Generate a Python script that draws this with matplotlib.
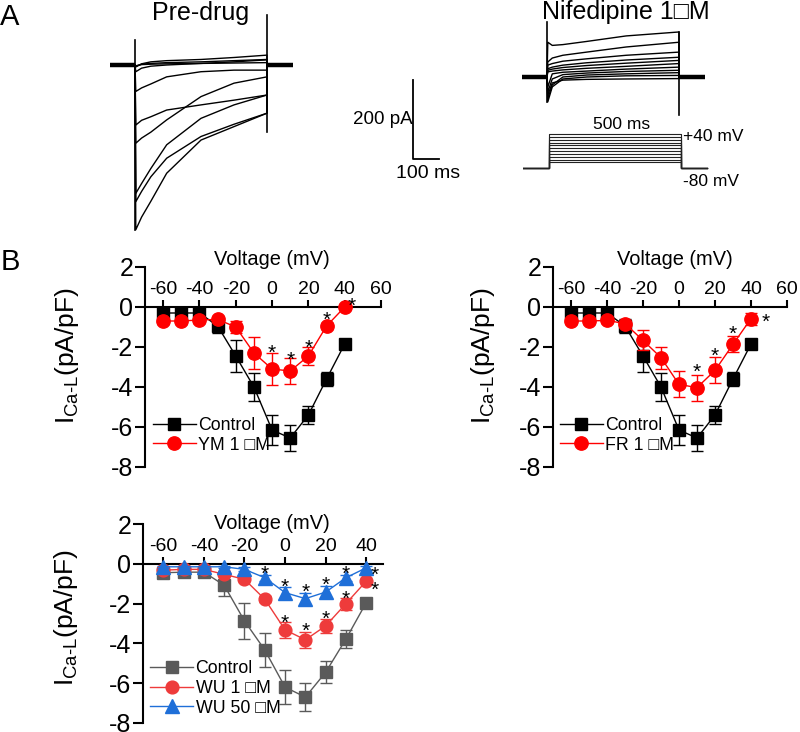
import matplotlib
matplotlib.use("Agg")
import matplotlib.pyplot as plt
from matplotlib.lines import Line2D

plt.rcParams['font.family'] = ['Liberation Sans', 'DejaVu Sans']
plt.rcParams['mathtext.fontset'] = 'custom'
plt.rcParams['mathtext.rm'] = 'Liberation Sans'
plt.rcParams['mathtext.it'] = 'Liberation Sans:italic'
plt.rcParams['axes.unicode_minus'] = False

W, H = 800, 732

# ---------------- panel A: whole-cell current traces (ms, pA) ----------------
pre_t = [3, 25, 60, 120, 250, 375, 500]
pre_traces = [
    [-417, -385, -345, -274, -190, -156, -122],
    [-346, -320, -283, -236, -181, -150, -122],
    [-325, -300, -262, -202, -135, -101, -76],
    [-198, -185, -170, -139, -80, -46, -30],
    [-152, -140, -131, -114, -101, -89, -76],
    [-67, -58, -48, -30, -17, -13, -13],
    [-17, -8, -3, 0, 4, 8, 13],
    [-5, 3, 8, 11, 14, 19, 25],
    [-3, 2, 4, 6, 8, 11, 14],
    [-2, 1, 2, 3, 4, 5, 6],
]
pre_on_spike = [63, -417]
pre_off_spike = [126, -170]

nif_t = [3, 20, 60, 150, 300, 500]
nif_traces = [
    [88, 80, 82, 90, 104, 114],
    [38, 48, 55, 63, 76, 88],
    [30, 34, 40, 46, 55, 63],
    [21, 25, 30, 36, 43, 50],
    [17, 20, 24, 29, 35, 42],
    [13, 15, 18, 22, 27, 34],
    [-25, 8, 12, 15, 20, 25],
    [-38, -5, 6, 10, 14, 17],
    [-55, -20, 0, 5, 8, 11],
    [-63, -25, -5, 0, 3, 4],
    [-46, -15, -8, -6, -5, -4],
]
nif_on_spike = [139, -63]
nif_off_spike = [114, -96]

hold_t = [-95, 598]
pulse_ms = 500
holding_mv = -80
step_mv = [-60, -50, -40, -30, -20, -10, 0, 10, 20, 30, 40]

# ---------------- panel B: I-V relations (mean, SEM in pA/pF) ----------------
volts = [-60, -50, -40, -30, -20, -10, 0, 10, 20, 30, 40]

ctrl_mean = [-0.3, -0.3, -0.3, -0.95, -2.45, -4.0, -6.15, -6.55, -5.4, -3.6, -1.85]
ctrl_sem = [0.15, 0.15, 0.15, 0.35, 0.78, 0.72, 0.75, 0.65, 0.45, 0.35, 0.1]

ym_mean = [-0.7, -0.7, -0.65, -0.62, -1.0, -2.3, -3.1, -3.2, -2.45, -0.95, 0.0]
ym_sem = [0.15, 0.15, 0.15, 0.1, 0.3, 0.78, 0.78, 0.65, 0.45, 0.15, 0.05]
ym_star_v = [0, 10, 20, 30, 44]
ym_star_y = [-2.03, -2.37, -1.78, -0.4, 0.33]

fr_mean = [-0.7, -0.7, -0.67, -0.83, -1.67, -2.53, -3.87, -4.03, -3.17, -1.87, -0.58]
fr_sem = [0.15, 0.15, 0.15, 0.15, 0.5, 0.55, 0.65, 0.65, 0.65, 0.4, 0.3]
fr_star_v = [10, 20, 30, 48]
fr_star_y = [-3.0, -2.2, -1.07, -0.5]

ctrl2_mean = [-0.45, -0.42, -0.42, -1.08, -2.87, -4.33, -6.2, -6.7, -5.45, -3.78, -1.95]
ctrl2_sem = [0.15, 0.15, 0.15, 0.55, 0.9, 0.85, 0.85, 0.7, 0.55, 0.45, 0.1]

wu1_mean = [-0.32, -0.28, -0.28, -0.53, -0.78, -1.78, -3.32, -3.82, -3.12, -2.0, -0.87]
wu1_sem = [0.1, 0.1, 0.1, 0.1, 0.1, 0.15, 0.4, 0.4, 0.35, 0.3, 0.1]
wu1_star_v = [0, 10, 20, 30, 44]
wu1_star_y = [-2.7, -3.12, -2.53, -1.48, -1.03]

wu50_mean = [-0.15, -0.15, -0.15, -0.15, -0.28, -0.7, -1.45, -1.75, -1.42, -0.7, -0.2]
wu50_sem = [0.05, 0.05, 0.05, 0.05, 0.1, 0.15, 0.3, 0.3, 0.3, 0.15, 0.1]
wu50_star_v = [-10, 0, 10, 20, 30, 44]
wu50_star_y = [-0.23, -0.92, -1.17, -0.82, -0.23, -0.28]

RED = '#ff0000'
RED2 = '#ee3b3b'
BLUE = '#1f6fd8'
GRAY = '#5a5a5a'

fig = plt.figure(figsize=(W / 100, H / 100), dpi=100)


def place(xlim, ylim, ox, oy, sx, sy):
    """Axes whose data origin sits at pixel (ox, oy) with sx, sy px per unit."""
    left = ox + xlim[0] * sx
    right = ox + xlim[1] * sx
    top = oy - ylim[1] * sy
    bottom = oy - ylim[0] * sy
    ax = fig.add_axes([left / W, 1 - bottom / H, (right - left) / W, (bottom - top) / H])
    ax.set_xlim(xlim)
    ax.set_ylim(ylim)
    ax.axis('off')
    return ax


def draw_traces(ax, t, traces, on_spike, off_spike):
    ax.plot(hold_t[:1] + [0], [0, 0], color='k', lw=3.2, solid_capstyle='butt')
    ax.plot([pulse_ms, hold_t[1]], [0, 0], color='k', lw=3.2, solid_capstyle='butt')
    for tr in traces:
        ax.plot([0] + t + [pulse_ms], [0] + tr + [0], color='k', lw=1.0)
    ax.plot([0, 0], on_spike, color='k', lw=1.2)
    ax.plot([pulse_ms, pulse_ms], off_spike, color='k', lw=1.2)


SX, SY = 0.264, 0.395
ax_pre = place((-100, 610), (-440, 140), 135, 65, SX, SY)
draw_traces(ax_pre, pre_t, pre_traces, pre_on_spike, pre_off_spike)

ax_nif = place((-100, 610), (-110, 150), 547, 77, SX, SY)
draw_traces(ax_nif, nif_t, nif_traces, nif_on_spike, nif_off_spike)

# scale bar
ax_sb = place((-120, 120), (-60, 210), 413, 159, SX, SY)
ax_sb.plot([0, 0, 100], [200, 0, 0], color='k', lw=1.3)
ax_sb.text(-3, 100, '200 pA', ha='right', va='center', fontsize=13.5)
ax_sb.text(57, -36, '100 ms', ha='center', va='center', fontsize=14)

# voltage protocol
ax_pr = place((-100, 610), (-140, 80), 549, 168 - 80 * 0.283, SX, 0.283)
for v in step_mv:
    ax_pr.plot([-100, 0, 0, pulse_ms, pulse_ms, 600],
               [holding_mv, holding_mv, v, v, holding_mv, holding_mv],
               color='#222222', lw=0.8)
ax_pr.text(275, 72, '500 ms', ha='center', va='center', fontsize=12.5)
ax_pr.text(508, 30, '+40 mV', ha='left', va='center', fontsize=12.5)
ax_pr.text(508, -129, '-80 mV', ha='left', va='center', fontsize=12.5)

fig.text(10 / W, 1 - 17 / H, 'A', fontsize=21, ha='center', va='center')
fig.text(201 / W, 1 - 13 / H, 'Pre-drug', fontsize=18, ha='center', va='center')
fig.text(626 / W, 1 - 12 / H, 'Nifedipine 1\u25a1M', fontsize=18, ha='center', va='center')
fig.text(10 / W, 1 - 262 / H, 'B', fontsize=21, ha='center', va='center')


# ---------------- panel B ----------------
def iv_axes(left, right, top, bottom, xlim, xticks, xlab_xy, ylab_xy):
    ax = fig.add_axes([left / W, 1 - bottom / H, (right - left) / W, (bottom - top) / H])
    ax.set_xlim(xlim)
    ax.set_ylim(-8, 2)
    ax.patch.set_visible(False)
    ax.spines['right'].set_visible(False)
    ax.spines['bottom'].set_visible(False)
    ax.spines['top'].set_position(('data', 0))
    ax.spines['top'].set_linewidth(1.5)
    ax.spines['left'].set_linewidth(1.5)
    ax.xaxis.set_ticks_position('top')
    ax.xaxis.set_label_position('top')
    ax.set_xticks(xticks)
    ax.set_yticks([2, 0, -2, -4, -6, -8])
    ax.tick_params(axis='x', direction='out', length=5, width=1.5, labelsize=14, pad=1.5)
    ax.tick_params(axis='y', direction='out', length=7, width=1.5, labelsize=18, pad=1.5)
    ax.set_xlabel('Voltage (mV)', fontsize=14.4, va='center')
    ax.xaxis.set_label_coords(*xlab_xy)
    ax.set_ylabel(r'I$_{\mathregular{Ca\text{-}L}}$(pA/pF)', fontsize=19, va='center')
    ax.yaxis.set_label_coords(*ylab_xy)
    return ax


def series(ax, mean, sem, color, marker, ms, z):
    ax.errorbar(volts, mean, yerr=sem, color=color, ecolor=color, lw=1, elinewidth=1,
                capsize=4, capthick=1, marker=marker, ms=ms, mfc=color, mec=color,
                zorder=z, clip_on=False)


def stars(ax, xs, ys):
    for x, y in zip(xs, ys):
        ax.annotate('*', (x, y), xytext=(0, -8), textcoords='offset points',
                    ha='center', va='baseline', fontsize=15, zorder=10)


def legend(ax, items, anchor):
    handles = [Line2D([], [], color=c, marker=m, ms=s, mfc=c, mec=c, lw=1) for c, m, s, _ in items]
    ax.legend(handles, [lab for _, _, _, lab in items], loc='upper left', bbox_to_anchor=anchor,
              frameon=False, fontsize=12.8, borderpad=0, borderaxespad=0, handlelength=2.4,
              handletextpad=0.15, labelspacing=0.15)


xt_top = [-60, -40, -20, 0, 20, 40, 60]
ax1 = iv_axes(145, 381, 267, 467, (-70, 60), xt_top, (0.538, 1.035), (-0.33, 0.555))
series(ax1, ctrl_mean, ctrl_sem, 'k', 's', 8.6, 3)
series(ax1, ym_mean, ym_sem, RED, 'o', 9.6, 4)
stars(ax1, ym_star_v, ym_star_y)
legend(ax1, [('k', 's', 8.6, 'Control'), (RED, 'o', 9.6, 'YM 1 \u25a1M')], (0.034, 0.25))

ax2 = iv_axes(553, 787, 267, 467, (-70, 60), xt_top, (0.52, 1.035), (-0.30, 0.555))
series(ax2, ctrl_mean, ctrl_sem, 'k', 's', 8.6, 3)
series(ax2, fr_mean, fr_sem, RED, 'o', 9.6, 4)
stars(ax2, fr_star_v, fr_star_y)
legend(ax2, [('k', 's', 8.6, 'Control'), (RED, 'o', 9.6, 'FR 1 \u25a1M')], (0.03, 0.25))

ax3 = iv_axes(143, 382.5, 524, 723, (-70, 48), [-60, -40, -20, 0, 20, 40], (0.54, 1.005), (-0.32, 0.53))
series(ax3, ctrl2_mean, ctrl2_sem, GRAY, 's', 8.6, 3)
series(ax3, wu1_mean, wu1_sem, RED2, 'o', 9.2, 4)
series(ax3, wu50_mean, wu50_sem, BLUE, '^', 10, 5)
stars(ax3, wu1_star_v, wu1_star_y)
stars(ax3, wu50_star_v, wu50_star_y)
legend(ax3, [(GRAY, 's', 8.6, 'Control'), (RED2, 'o', 9.2, 'WU 1 \u25a1M'),
             (BLUE, '^', 10, 'WU 50 \u25a1M')], (0.03, 0.315))

fig.savefig('out.png', dpi=100)
